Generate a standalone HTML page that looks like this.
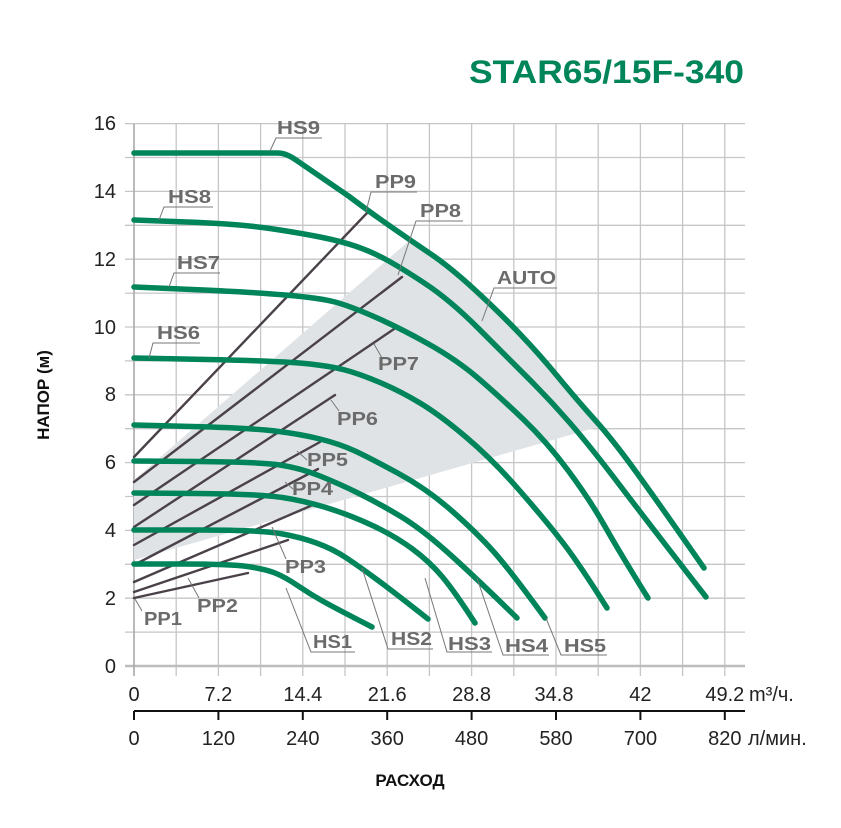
<!DOCTYPE html>
<html><head><meta charset="utf-8"><style>
html,body{margin:0;padding:0;background:#fff;}
svg{display:block;}
text{font-family:"Liberation Sans",sans-serif;}
</style></head><body>
<svg width="841" height="828" viewBox="0 0 841 828" xmlns="http://www.w3.org/2000/svg">
<rect width="841" height="828" fill="#fff"/>
<text x="744" y="83" text-anchor="end" font-size="32" font-weight="bold" fill="#00845a" textLength="275" lengthAdjust="spacingAndGlyphs">STAR65/15F-340</text>
<g stroke="#c6c6c6" stroke-width="1.3">
<line x1="176.2" y1="124" x2="176.2" y2="676"/><line x1="218.4" y1="124" x2="218.4" y2="676"/><line x1="260.6" y1="124" x2="260.6" y2="676"/><line x1="302.8" y1="124" x2="302.8" y2="676"/><line x1="345" y1="124" x2="345" y2="676"/><line x1="387.2" y1="124" x2="387.2" y2="676"/><line x1="429.4" y1="124" x2="429.4" y2="676"/><line x1="471.6" y1="124" x2="471.6" y2="676"/><line x1="513.8" y1="124" x2="513.8" y2="676"/><line x1="556" y1="124" x2="556" y2="676"/><line x1="598.2" y1="124" x2="598.2" y2="676"/><line x1="640.4" y1="124" x2="640.4" y2="676"/><line x1="682.6" y1="124" x2="682.6" y2="676"/><line x1="724.8" y1="124" x2="724.8" y2="676"/>
<line x1="125" y1="123.6" x2="745" y2="123.6"/><line x1="125" y1="157.5" x2="745" y2="157.5"/><line x1="125" y1="191.4" x2="745" y2="191.4"/><line x1="125" y1="225.3" x2="745" y2="225.3"/><line x1="125" y1="259.2" x2="745" y2="259.2"/><line x1="125" y1="293.1" x2="745" y2="293.1"/><line x1="125" y1="327" x2="745" y2="327"/><line x1="125" y1="360.9" x2="745" y2="360.9"/><line x1="125" y1="394.8" x2="745" y2="394.8"/><line x1="125" y1="428.7" x2="745" y2="428.7"/><line x1="125" y1="462.6" x2="745" y2="462.6"/><line x1="125" y1="496.5" x2="745" y2="496.5"/><line x1="125" y1="530.4" x2="745" y2="530.4"/><line x1="125" y1="564.3" x2="745" y2="564.3"/><line x1="125" y1="598.2" x2="745" y2="598.2"/><line x1="125" y1="632.1" x2="745" y2="632.1"/>
</g>
<line x1="125" y1="666" x2="745" y2="666" stroke="#bdbdbd" stroke-width="2.5"/>
<line x1="134" y1="124" x2="134" y2="676" stroke="#a8a8a8" stroke-width="1.6"/>
<polygon points="134,480 410,240 450,267 500,313 540,352 570,392 598,427 134,560" fill="#dfe3e6"/>
<g stroke="#4a4149" stroke-width="2.4" stroke-linecap="round">
<line x1="134" y1="598" x2="248" y2="573"/>
<line x1="134" y1="592" x2="288" y2="540"/>
<line x1="134" y1="582" x2="315" y2="504"/>
<line x1="134" y1="565" x2="318" y2="469"/>
<line x1="134" y1="545" x2="320" y2="442"/>
<line x1="134" y1="527" x2="335" y2="395"/>
<line x1="134" y1="505" x2="397" y2="327"/>
<line x1="134" y1="482" x2="402" y2="277"/>
<line x1="134" y1="457" x2="367" y2="213"/>
</g>
<g fill="none" stroke="#00845a" stroke-width="5.5" stroke-linecap="round" stroke-linejoin="round">
<path d="M134,153 L278,153 Q286,153 296,160 L348.5,196 Q367,210 388.5,225 Q410,240 430,253.5 Q450,267 475,290 Q500,313 520,334 Q540,355 558.5,377.5 Q577,400 595,420 Q613,440 636.5,472.5 Q660,505 704,568"/>
<path d="M134,220 L187,222 Q240,224 270,228.5 Q300,233 320,237 Q340,241 355,246 Q370,251 385,259 Q400,267 425,283.5 Q450,300 478.5,328.5 Q507,357 528.5,378.5 Q550,400 570,423 Q590,446 620,485.5 Q650,525 706,597"/>
<path d="M134,287 L192,289.5 Q250,292 285,295 Q320,298 335,302 Q350,306 375,317 Q400,328 428.5,344 Q457,360 478.5,378.5 Q500,397 523.5,419.5 Q547,442 568.5,471 Q590,500 605,526.5 Q620,553 648,598"/>
<path d="M134,358 L207,359.5 Q280,361 305,363.5 Q330,366 345,370 Q360,374 380,382.5 Q400,391 420,403 Q440,415 466.5,437.5 Q493,460 520,491 Q547,522 563.5,543.5 Q580,565 607,608"/>
<path d="M134,425 L192,426.5 Q250,428 275,431 Q300,434 320,439 Q340,444 355,451 Q370,458 398.5,473.5 Q427,489 452,511 Q477,533 493.5,551.5 Q510,570 545,618"/>
<path d="M134,461 L197,461.5 Q260,462 280,465 Q300,468 320,476 Q340,484 360,494 Q380,504 400,516 Q420,528 445,550 Q470,572 517,618"/>
<path d="M134,493 L197,493.5 Q260,494 282.5,497.5 Q305,501 327.5,508 Q350,515 372.5,525.5 Q395,536 412.5,549 Q430,562 442.5,577 Q455,592 475,623"/>
<path d="M134,530 L197,530 Q260,530 280,533.5 Q300,537 316.5,543 Q333,549 346.5,558 Q360,567 377.5,580 Q395,593 428,619"/>
<path d="M134,564 L182,564 Q230,564 247.5,566.5 Q265,569 275,573 Q285,577 297.5,585.5 Q310,594 322.5,601 Q335,608 372,627"/>
</g>
<g stroke="#777" stroke-width="1" fill="none">
<polyline points="322,138 276,138 270,151"/>
<polyline points="213,207 164,207 159,220"/>
<polyline points="220,273 174,273 169,287"/>
<polyline points="200,343 153,343 149,358"/>
<polyline points="417,192 371,192 366,212"/>
<polyline points="463,221 416,221 398,275"/>
<polyline points="374,344 382,358"/>
<polyline points="557,288 494,288 482,321"/>
<polyline points="331,400 339,411"/>
<polyline points="297,451 307,460"/>
<polyline points="285,482 293,489"/>
<polyline points="272,527 286,559"/>
<polyline points="188,578 199,598"/>
<polyline points="135,599 142,611"/>
<polyline points="355,652 311,652 286,588"/>
<polyline points="433,649 388,649 362,568"/>
<polyline points="492,652 447,652 425,578"/>
<polyline points="549,655 503,655 477,578"/>
<polyline points="607,655 561,655 546,618"/>
</g>
<g fill="#6b6b6b" font-size="18" font-weight="bold">
<text x="277" y="134" textLength="43" lengthAdjust="spacingAndGlyphs">HS9</text>
<text x="168" y="203" textLength="43" lengthAdjust="spacingAndGlyphs">HS8</text>
<text x="177" y="269" textLength="43" lengthAdjust="spacingAndGlyphs">HS7</text>
<text x="157" y="339" textLength="43" lengthAdjust="spacingAndGlyphs">HS6</text>
<text x="375" y="188" textLength="41" lengthAdjust="spacingAndGlyphs">PP9</text>
<text x="420" y="217" textLength="41" lengthAdjust="spacingAndGlyphs">PP8</text>
<text x="378" y="370" textLength="41" lengthAdjust="spacingAndGlyphs">PP7</text>
<text x="497" y="284" textLength="59" lengthAdjust="spacingAndGlyphs">AUTO</text>
<text x="337" y="425" textLength="41" lengthAdjust="spacingAndGlyphs">PP6</text>
<text x="307" y="466" textLength="41" lengthAdjust="spacingAndGlyphs">PP5</text>
<text x="292" y="495" textLength="41" lengthAdjust="spacingAndGlyphs">PP4</text>
<text x="285" y="573" textLength="41" lengthAdjust="spacingAndGlyphs">PP3</text>
<text x="197" y="612" textLength="41" lengthAdjust="spacingAndGlyphs">PP2</text>
<text x="144" y="625" textLength="38" lengthAdjust="spacingAndGlyphs">PP1</text>
<text x="313" y="648" textLength="39" lengthAdjust="spacingAndGlyphs">HS1</text>
<text x="391" y="645" textLength="41" lengthAdjust="spacingAndGlyphs">HS2</text>
<text x="448" y="650" textLength="43" lengthAdjust="spacingAndGlyphs">HS3</text>
<text x="505" y="652" textLength="43" lengthAdjust="spacingAndGlyphs">HS4</text>
<text x="564" y="652" textLength="42" lengthAdjust="spacingAndGlyphs">HS5</text>
</g>
<g font-size="20" fill="#222" text-anchor="end">
<text x="116" y="673">0</text><text x="116" y="605">2</text><text x="116" y="537">4</text><text x="116" y="469">6</text><text x="116" y="401">8</text><text x="116" y="334">10</text><text x="116" y="266">12</text><text x="116" y="198">14</text><text x="116" y="130">16</text>
</g>
<text transform="translate(49,395) rotate(-90)" text-anchor="middle" font-size="17" font-weight="bold" fill="#111">НАПОР (м)</text>
<g font-size="20" fill="#222" text-anchor="middle">
<text x="134" y="701">0</text><text x="218.4" y="701">7.2</text><text x="302.8" y="701">14.4</text><text x="387.2" y="701">21.6</text><text x="471.6" y="701">28.8</text><text x="554" y="701">34.8</text><text x="640.4" y="701">42</text><text x="724.8" y="701">49.2</text>
</g>
<text x="749" y="701" font-size="20" fill="#222">m³/ч.</text>
<line x1="134" y1="711" x2="745" y2="711" stroke="#111" stroke-width="2"/>
<g stroke="#111" stroke-width="2">
<line x1="134" y1="711" x2="134" y2="720"/><line x1="218.4" y1="711" x2="218.4" y2="720"/><line x1="302.8" y1="711" x2="302.8" y2="720"/><line x1="387.2" y1="711" x2="387.2" y2="720"/><line x1="471.6" y1="711" x2="471.6" y2="720"/><line x1="556" y1="711" x2="556" y2="720"/><line x1="640.4" y1="711" x2="640.4" y2="720"/><line x1="724.8" y1="711" x2="724.8" y2="720"/>
</g>
<g font-size="20" fill="#222" text-anchor="middle">
<text x="134" y="745">0</text><text x="218.4" y="745">120</text><text x="302.8" y="745">240</text><text x="387.2" y="745">360</text><text x="471.6" y="745">480</text><text x="556" y="745">580</text><text x="640.4" y="745">700</text><text x="724.8" y="745">820</text>
</g>
<text x="748" y="745" font-size="20" fill="#222">л/мин.</text>
<text x="410" y="786" text-anchor="middle" font-size="17" font-weight="bold" fill="#111">РАСХОД</text>
</svg>
</body></html>
